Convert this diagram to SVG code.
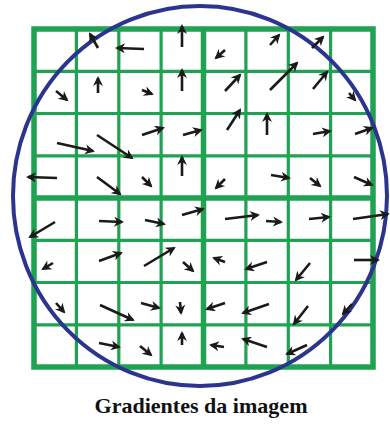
<svg xmlns="http://www.w3.org/2000/svg" width="390" height="424" viewBox="0 0 390 424">
<defs>
<marker id="ah" viewBox="0 0 10 10" refX="8" refY="5" markerWidth="11" markerHeight="10" markerUnits="userSpaceOnUse" orient="auto">
<path d="M0,0 L10,5 L0,10 L3,5 z" fill="#1a1a1a"/>
</marker>
<style>
.thin{stroke:#1fa352;stroke-width:3.2;fill:none}
.thick{stroke:#1fa352;stroke-width:5.5;fill:none}
.ring{stroke:#2b3590;stroke-width:4;fill:none}
.arr line{stroke:#1a1a1a;stroke-width:2.6;marker-end:url(#ah)}
.cap{font-family:"Liberation Serif","Times New Roman",serif;font-weight:bold;font-size:22px;fill:#111}
</style>
</defs>
<rect width="390" height="424" fill="#fff"/>
<g id="grid">
<g class="thin">
<line x1="76.4" y1="29" x2="76.4" y2="367"/>
<line x1="118.8" y1="29" x2="118.8" y2="367"/>
<line x1="161.1" y1="29" x2="161.1" y2="367"/>
<line x1="245.9" y1="29" x2="245.9" y2="367"/>
<line x1="288.3" y1="29" x2="288.3" y2="367"/>
<line x1="330.6" y1="29" x2="330.6" y2="367"/>
<line x1="34" y1="71.3" x2="373" y2="71.3"/>
<line x1="34" y1="113.5" x2="373" y2="113.5"/>
<line x1="34" y1="155.8" x2="373" y2="155.8"/>
<line x1="34" y1="240.3" x2="373" y2="240.3"/>
<line x1="34" y1="282.5" x2="373" y2="282.5"/>
<line x1="34" y1="324.8" x2="373" y2="324.8"/>
</g>
<g class="thick">
<line x1="203.5" y1="29" x2="203.5" y2="367"/>
<line x1="34" y1="198" x2="373" y2="198"/>
<rect x="34" y="29" width="339" height="338"/>
</g>
</g>
<g id="circle">
<ellipse class="ring" cx="200" cy="196" rx="187" ry="190"/>
</g>
<g id="arrows" class="arr">
<line x1="98" y1="48" x2="90" y2="34"/>
<line x1="144" y1="49" x2="117" y2="48"/>
<line x1="182" y1="47" x2="182" y2="26"/>
<line x1="56" y1="91" x2="67" y2="100"/>
<line x1="98" y1="93" x2="98" y2="78"/>
<line x1="142" y1="90" x2="152" y2="94"/>
<line x1="182" y1="91" x2="182" y2="70"/>
<line x1="57" y1="143" x2="93" y2="151"/>
<line x1="97" y1="135" x2="132" y2="158"/>
<line x1="142" y1="135" x2="163" y2="128"/>
<line x1="183" y1="135" x2="201" y2="130"/>
<line x1="57" y1="178" x2="28" y2="177"/>
<line x1="97" y1="177" x2="120" y2="194"/>
<line x1="142" y1="177" x2="151" y2="186"/>
<line x1="182" y1="176" x2="182" y2="157"/>
<line x1="225" y1="50" x2="216" y2="58"/>
<line x1="270" y1="45" x2="279" y2="35"/>
<line x1="312" y1="48" x2="323" y2="37"/>
<line x1="225" y1="91" x2="240" y2="75"/>
<line x1="270" y1="90" x2="297" y2="63"/>
<line x1="313" y1="89" x2="327" y2="72"/>
<line x1="349" y1="93" x2="355" y2="100"/>
<line x1="227" y1="130" x2="240" y2="110"/>
<line x1="267" y1="135" x2="267" y2="114"/>
<line x1="313" y1="134" x2="330" y2="131"/>
<line x1="355" y1="134" x2="372" y2="128"/>
<line x1="225" y1="179" x2="216" y2="188"/>
<line x1="271" y1="175" x2="289" y2="178"/>
<line x1="310" y1="178" x2="320" y2="186"/>
<line x1="354" y1="177" x2="372" y2="185"/>
<line x1="55" y1="222" x2="30" y2="237"/>
<line x1="99" y1="221" x2="122" y2="222"/>
<line x1="145" y1="220" x2="164" y2="224"/>
<line x1="182" y1="215" x2="203" y2="209"/>
<line x1="53" y1="263" x2="43" y2="269"/>
<line x1="99" y1="261" x2="121" y2="253"/>
<line x1="144" y1="266" x2="174" y2="248"/>
<line x1="183" y1="262" x2="193" y2="271"/>
<line x1="56" y1="303" x2="64" y2="312"/>
<line x1="100" y1="305" x2="133" y2="320"/>
<line x1="141" y1="303" x2="159" y2="308"/>
<line x1="180" y1="302" x2="181" y2="313"/>
<line x1="99" y1="343" x2="119" y2="347"/>
<line x1="140" y1="346" x2="151" y2="355"/>
<line x1="182" y1="345" x2="182" y2="333"/>
<line x1="225" y1="219" x2="258" y2="215"/>
<line x1="266" y1="221" x2="281" y2="222"/>
<line x1="309" y1="219" x2="329" y2="217"/>
<line x1="353" y1="219" x2="388" y2="214"/>
<line x1="225" y1="262" x2="214" y2="258"/>
<line x1="267" y1="262" x2="246" y2="269"/>
<line x1="310" y1="263" x2="296" y2="280"/>
<line x1="354" y1="260" x2="378" y2="260"/>
<line x1="225" y1="303" x2="207" y2="309"/>
<line x1="269" y1="304" x2="243" y2="313"/>
<line x1="308" y1="306" x2="294" y2="324"/>
<line x1="352" y1="304" x2="343" y2="314"/>
<line x1="224" y1="347" x2="211" y2="345"/>
<line x1="267" y1="347" x2="243" y2="339"/>
<line x1="307" y1="345" x2="287" y2="354"/>
</g>
<g id="caption">
<text class="cap" x="201" y="413" text-anchor="middle" textLength="213" lengthAdjust="spacingAndGlyphs">Gradientes da imagem</text>
</g>
</svg>
